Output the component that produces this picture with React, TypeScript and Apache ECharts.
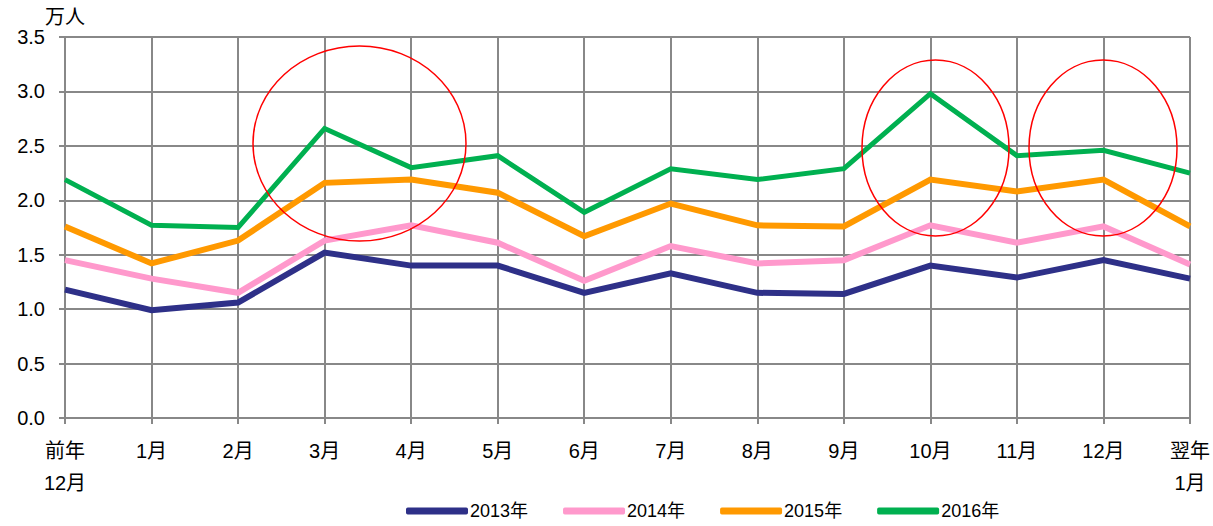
import React, { useEffect, useRef } from "react";
import * as echarts from "echarts";

const categories = ["前年\n12月", "1月", "2月", "3月", "4月", "5月", "6月", "7月", "8月", "9月", "10月", "11月", "12月", "翌年\n1月"];
const s2013 = [1.18, 0.99, 1.06, 1.52, 1.4, 1.4, 1.15, 1.33, 1.15, 1.14, 1.4, 1.29, 1.45, 1.28];
const s2014 = [1.45, 1.28, 1.15, 1.63, 1.77, 1.61, 1.26, 1.58, 1.42, 1.45, 1.77, 1.61, 1.76, 1.41];
const s2015 = [1.76, 1.42, 1.63, 2.16, 2.19, 2.07, 1.67, 1.97, 1.77, 1.76, 2.19, 2.08, 2.19, 1.76];
const s2016 = [2.19, 1.77, 1.75, 2.66, 2.3, 2.41, 1.89, 2.29, 2.19, 2.29, 2.98, 2.41, 2.46, 2.25];
const seriesNames = ["2013年", "2014年", "2015年", "2016年"];
const colors = ["#2E3088", "#FF99CC", "#FF9900", "#00B050"];
const yTicks = [0, 0.5, 1, 1.5, 2, 2.5, 3, 3.5];

export default function App() {
  const ref = useRef<HTMLDivElement>(null);
  useEffect(() => {
    if (!ref.current) return;
    const chart = echarts.init(ref.current, null, { renderer: "svg" });
    const font = "'Liberation Sans', Arial, 'Noto Sans CJK JP', sans-serif";
    const data = [s2013, s2014, s2015, s2016];
    const widths = [6, 6, 6, 5];
    chart.setOption({
      animation: false,
      backgroundColor: "#fff",
      textStyle: { fontFamily: font },
      grid: { left: 65, right: 21, top: 37, bottom: 108, containLabel: false },
      legend: {
        top: 502,
        left: 406,
        padding: 0,
        icon: "roundRect",
        itemWidth: 62,
        itemHeight: 7,
        itemGap: 35,
        textStyle: { fontSize: 18, color: "#000", fontFamily: font, padding: [0, 0, 0, -3] },
        data: seriesNames,
      },
      xAxis: {
        type: "category",
        data: categories,
        boundaryGap: false,
        axisLine: { lineStyle: { color: "#888", width: 2 } },
        axisTick: { show: true, length: 6, lineStyle: { color: "#888", width: 2 } },
        splitLine: { show: true, lineStyle: { color: "#888", width: 2 } },
        axisLabel: { fontSize: 20, color: "#000", margin: 17, lineHeight: 32, fontFamily: font, interval: 0 },
      },
      yAxis: {
        type: "value",
        min: 0,
        max: 3.5,
        interval: 0.5,
        name: "万人",
        nameLocation: "end",
        nameGap: 10,
        nameTextStyle: { fontSize: 20, color: "#000", align: "center", fontFamily: font },
        axisLine: { show: true, lineStyle: { color: "#888", width: 2 } },
        axisTick: { show: true, length: 6, lineStyle: { color: "#888", width: 2 } },
        splitLine: { show: true, lineStyle: { color: "#888", width: 2 } },
        axisLabel: {
          fontSize: 20,
          color: "#000",
          margin: 20,
          fontFamily: font,
          formatter: (v: number) => (yTicks.includes(v) ? v.toFixed(1) : ""),
        },
      },
      series: seriesNames.map((n, i) => ({
        name: n,
        type: "line",
        data: data[i],
        symbol: "none",
        color: colors[i],
        lineStyle: { color: colors[i], width: widths[i], join: "miter" },
        itemStyle: { color: colors[i] },
        z: 2 + i,
      })),
      graphic: [
        { type: "ellipse", shape: { cx: 359.5, cy: 143.5, rx: 106.5, ry: 97.5 }, style: { fill: "none", stroke: "#FF0000", lineWidth: 1.5 }, z: 100 },
        { type: "ellipse", shape: { cx: 935.5, cy: 148, rx: 73.5, ry: 88 }, style: { fill: "none", stroke: "#FF0000", lineWidth: 1.5 }, z: 100 },
        { type: "ellipse", shape: { cx: 1103, cy: 148, rx: 74, ry: 88 }, style: { fill: "none", stroke: "#FF0000", lineWidth: 1.5 }, z: 100 },
      ],
    });
    return () => chart.dispose();
  }, []);
  return <div ref={ref} style={{ width: 1213, height: 526, position: "absolute", left: 0, top: 0 }} />;
}
